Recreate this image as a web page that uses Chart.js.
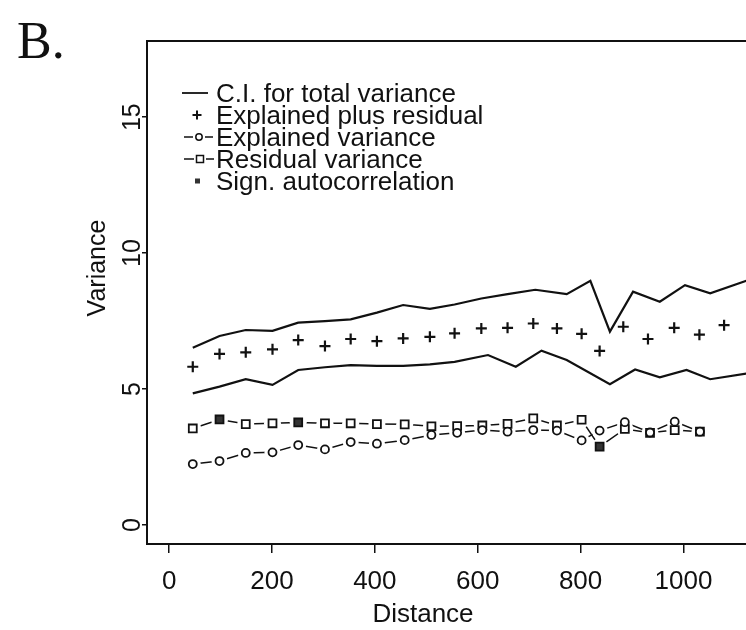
<!DOCTYPE html>
<html>
<head>
<meta charset="utf-8">
<script src="https://cdn.jsdelivr.net/npm/chart.js@4/dist/chart.umd.min.js"></script>
<style>
  html, body { margin: 0; padding: 0; background: #fff; }
  #wrap { position: relative; width: 746px; height: 630px; overflow: hidden; background: #fff; }
  #c { position: absolute; left: 0; top: 0; }
  #panel { position: absolute; left: 17px; top: 15px; font-family: 'Liberation Serif', 'Times New Roman', serif;
           font-size: 52px; line-height: 52px; color: #111; }
</style>
</head>
<body>
<div id="wrap">
  <canvas id="c" width="746" height="630"></canvas>
  <div id="panel">B.</div>
</div>
<script>
// ---------------- data ----------------
const xTickValues = [0, 200, 400, 600, 800, 1000];
const yTickValues = [0, 5, 10, 15];

// confidence interval for total variance
const ciUpperDist = [46, 98, 149, 201, 251, 303, 353, 404, 455, 507, 555, 607, 658, 712, 773, 819, 857, 902, 954, 1003, 1052, 1125];
const ciUpper     = [6.52, 6.95, 7.17, 7.14, 7.44, 7.50, 7.56, 7.81, 8.09, 7.95, 8.11, 8.33, 8.49, 8.65, 8.49, 8.98, 7.11, 8.58, 8.21, 8.82, 8.52, 9.00];
const ciLowerDist = [46, 98, 149, 201, 251, 303, 353, 404, 455, 507, 555, 620, 674, 724, 773, 857, 906, 954, 1006, 1052, 1125];
const ciLower     = [4.84, 5.09, 5.36, 5.15, 5.70, 5.80, 5.88, 5.85, 5.85, 5.91, 6.00, 6.25, 5.82, 6.41, 6.07, 5.18, 5.72, 5.43, 5.70, 5.36, 5.58];

// explained plus residual
const sumDist = [46, 98, 149, 201, 251, 303, 353, 404, 455, 507, 555, 607, 658, 708, 754, 802, 837, 883, 931, 982, 1031, 1079];
const explainedPlusResidual = [5.82, 6.29, 6.35, 6.46, 6.80, 6.58, 6.84, 6.76, 6.86, 6.92, 7.05, 7.23, 7.25, 7.41, 7.23, 7.03, 6.40, 7.29, 6.84, 7.25, 7.00, 7.35];

// explained and residual variance per distance class
const classDist = [46, 98, 149, 201, 251, 303, 353, 404, 458, 510, 560, 609, 658, 708, 754, 802, 837, 886, 935, 983, 1032];
const explainedVariance = [2.24, 2.35, 2.65, 2.67, 2.94, 2.78, 3.05, 2.99, 3.12, 3.31, 3.39, 3.49, 3.43, 3.49, 3.47, 3.11, 3.47, 3.78, 3.40, 3.80, 3.43];
const residualVariance  = [3.55, 3.88, 3.71, 3.74, 3.77, 3.74, 3.74, 3.71, 3.70, 3.63, 3.64, 3.66, 3.72, 3.92, 3.66, 3.87, 2.88, 3.53, 3.39, 3.49, 3.43];
const signAutocorrelation = [false, true, false, false, true, false, false, false, false, false, false, false, false, false, false, false, true, false, false, false, false];

const legendLabels = ['C.I. for total variance', 'Explained plus residual', 'Explained variance', 'Residual variance', 'Sign. autocorrelation'];

// ---------------- style ----------------
const INK = '#111';
const FONT = "'Liberation Sans', Arial, Helvetica, sans-serif";

const pts = (xs, ys) => xs.map((x, i) => ({ x: x, y: ys[i] }));

const decor = {
  id: 'decor',
  afterDraw(chart) {
    const ctx = chart.ctx, a = chart.chartArea, ys = chart.scales.y;
    ctx.save();
    ctx.strokeStyle = INK; ctx.fillStyle = INK;
    // top frame line
    ctx.lineWidth = 2;
    ctx.beginPath(); ctx.moveTo(a.left - 1, a.top); ctx.lineTo(a.right + 2, a.top); ctx.stroke();

    // rotated y tick labels
    const fs = 25;
    ctx.font = fs + 'px ' + FONT;
    ctx.textAlign = 'center'; ctx.textBaseline = 'alphabetic';
    yTickValues.forEach(v => {
      const py = ys.getPixelForValue(v);
      ctx.save(); ctx.translate(131, py); ctx.rotate(-Math.PI / 2);
      ctx.fillText(String(v), 0, 0.358 * fs); ctx.restore();
    });
    // y axis title
    ctx.save(); ctx.translate(96, 268); ctx.rotate(-Math.PI / 2);
    ctx.fillText('Variance', 0, 0.358 * fs); ctx.restore();
    // x axis title
    ctx.font = '26px ' + FONT;
    ctx.fillText('Distance', 423, 613 + 0.358 * 26);

    // legend
    const lf = 26;
    ctx.font = lf + 'px ' + FONT;
    const rows = [93, 115, 137, 159, 181];
    ctx.textAlign = 'left';
    legendLabels.forEach((t, i) => ctx.fillText(t, 216, rows[i] + 0.358 * lf));
    // symbols
    ctx.lineWidth = 1.8;
    ctx.beginPath(); ctx.moveTo(182, rows[0]); ctx.lineTo(208, rows[0]); ctx.stroke();
    ctx.lineWidth = 2;
    ctx.beginPath(); ctx.moveTo(192.5, rows[1]); ctx.lineTo(201.5, rows[1]); ctx.moveTo(197, rows[1] - 4.5); ctx.lineTo(197, rows[1] + 4.5); ctx.stroke();
    ctx.lineWidth = 1.5;
    ctx.beginPath(); ctx.moveTo(184, rows[2]); ctx.lineTo(193, rows[2]); ctx.moveTo(205, rows[2]); ctx.lineTo(213, rows[2]); ctx.stroke();
    ctx.beginPath(); ctx.arc(199, rows[2], 3.2, 0, Math.PI * 2); ctx.stroke();
    ctx.beginPath(); ctx.moveTo(184, rows[3]); ctx.lineTo(194, rows[3]); ctx.moveTo(206, rows[3]); ctx.lineTo(214, rows[3]); ctx.stroke();
    ctx.strokeRect(196.5, rows[3] - 3.5, 7, 7);
    ctx.fillStyle = '#333';
    ctx.fillRect(195, rows[4] - 2.5, 5, 5);
    ctx.restore();
  }
};

new Chart(document.getElementById('c'), {
  type: 'scatter',
  data: {
    datasets: [
      { label: 'C.I. upper', data: pts(ciUpperDist, ciUpper), showLine: true, pointRadius: 0, borderColor: INK, borderWidth: 2.2, order: 6 },
      { label: 'C.I. lower', data: pts(ciLowerDist, ciLower), showLine: true, pointRadius: 0, borderColor: INK, borderWidth: 2.2, order: 6 },
      { label: legendLabels[1], data: pts(sumDist, explainedPlusResidual), showLine: false, pointStyle: 'cross', pointRadius: 5.5,
        pointBorderWidth: 2.2, pointBorderColor: INK, order: 1 },
      { label: 'explained line', data: pts(classDist, explainedVariance), showLine: true, pointRadius: 0, borderColor: INK, borderWidth: 1.5, order: 5 },
      { label: 'residual line', data: pts(classDist, residualVariance), showLine: true, pointRadius: 0, borderColor: INK, borderWidth: 1.5, order: 5 },
      { label: 'gap e', data: pts(classDist, explainedVariance), showLine: false, pointStyle: 'circle', pointRadius: 8,
        pointBackgroundColor: '#fff', pointBorderColor: '#fff', pointBorderWidth: 0, order: 4 },
      { label: 'gap r', data: pts(classDist, residualVariance), showLine: false, pointStyle: 'circle', pointRadius: 8.5,
        pointBackgroundColor: '#fff', pointBorderColor: '#fff', pointBorderWidth: 0, order: 4 },
      { label: legendLabels[2], data: pts(classDist, explainedVariance), showLine: false, pointStyle: 'circle', pointRadius: 4,
        pointBackgroundColor: '#fff', pointBorderColor: INK, pointBorderWidth: 1.8, order: 2 },
      { label: legendLabels[3], data: pts(classDist, residualVariance), showLine: false, pointStyle: 'rect', pointRadius: 5.6,
        pointBackgroundColor: signAutocorrelation.map(s => s ? '#333' : '#fff'), pointBorderColor: INK, pointBorderWidth: 1.8, order: 2 }
    ]
  },
  options: {
    responsive: false,
    animation: false,
    events: [],
    layout: { autoPadding: false, padding: { top: 41, left: 0, right: 0, bottom: 0 } },
    plugins: { legend: { display: false }, tooltip: { enabled: false } },
    scales: {
      x: {
        type: 'linear', min: -43, max: 1121.6,
        afterBuildTicks: s => { s.ticks = xTickValues.map(v => ({ value: v })); },
        afterFit: s => { s.height = 86; s.paddingLeft = 0; s.paddingRight = 0; },
        border: { display: true, color: INK, width: 2 },
        grid: { drawOnChartArea: false, drawTicks: true, tickLength: 9, color: INK, lineWidth: 1.5 },
        ticks: { color: INK, font: { family: FONT, size: 26 }, padding: 13, maxRotation: 0, minRotation: 0,
                 callback: v => String(v) }
      },
      y: {
        type: 'linear', min: -0.7, max: 17.8,
        afterBuildTicks: s => { s.ticks = yTickValues.map(v => ({ value: v })); },
        afterFit: s => { s.width = 147; s.paddingTop = 0; s.paddingBottom = 0; },
        border: { display: true, color: INK, width: 2 },
        grid: { drawOnChartArea: false, drawTicks: true, tickLength: 5, color: INK, lineWidth: 1.5 },
        ticks: { display: false }
      }
    }
  },
  plugins: [decor]
});
</script>
</body>
</html>
